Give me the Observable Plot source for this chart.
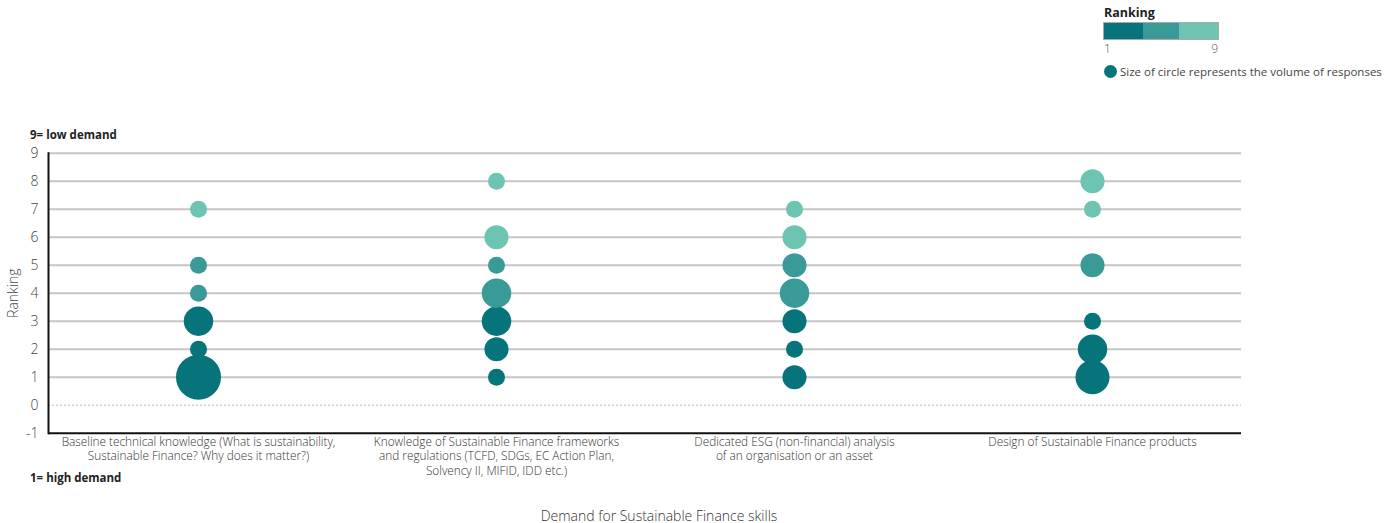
<!DOCTYPE html>
<html>
<head>
<meta charset="utf-8">
<script src="https://cdn.jsdelivr.net/npm/d3@7"></script>
<script src="https://cdn.jsdelivr.net/npm/@observablehq/plot@0.6"></script>
<style>
  html, body { margin: 0; padding: 0; background: #fff; }
  body { font-family: "Open Sans", sans-serif; }
  #wrap { position: relative; width: 1397px; height: 523px; }
  #chart { position: absolute; left: 0; top: 0; }
  .note { position: absolute; font-weight: 700; font-size: 11.5px; color: #222; white-space: nowrap; line-height: 1; }
  #xtitle { position: absolute; left: 659px; top: 507px; transform: translateX(-50%); font-size: 14px; font-weight: 300; color: #333; white-space: nowrap; line-height: 18px; }
  #legend { position: absolute; left: 1104px; top: 5px; font-size: 11.5px; color: #444; }
  #legend .title { font-weight: 700; font-size: 12.5px; color: #222; line-height: 16px; }
  #legend .bar { display: flex; width: 114px; height: 16px; border: 1px solid #aaa; margin-top: 1px; margin-left: -1px; }
  #legend .bar div { height: 100%; }
  #legend .ends { display: flex; justify-content: space-between; width: 114px; margin-top: 2px; line-height: 14px; font-size: 12px; color: #555; font-weight: 300; }
  #legend .size { display: flex; align-items: center; margin-top: 8px; white-space: nowrap; }
  #legend .size span.c { display: inline-block; width: 13px; height: 13px; border-radius: 50%; margin-right: 3px; }
</style>
</head>
<body>
<div id="wrap">
  <div id="chart"></div>
  <div class="note" style="left:30px; top:129px;">9= low demand</div>
  <div class="note" style="left:30px; top:472px;">1= high demand</div>
  <div id="xtitle"></div>
  <div id="legend"></div>
</div>
<script>
// ---- Data ----
const skills = [
  "Baseline technical knowledge",
  "Knowledge of Sustainable Finance frameworks",
  "Dedicated ESG analysis",
  "Design of Sustainable Finance products"
];
const skillTickLabels = [
  "Baseline technical knowledge (What is sustainability,\nSustainable Finance? Why does it matter?)",
  "Knowledge of Sustainable Finance frameworks\nand regulations (TCFD, SDGs, EC Action Plan,\nSolvency II, MIFID, IDD etc.)",
  "Dedicated ESG (non-financial) analysis\nof an organisation or an asset",
  "Design of Sustainable Finance products"
];
const xTitle = "Demand for Sustainable Finance skills";
const yTitle = "Ranking";
const baselineRanks = [1, 2, 3, 4, 5, 7];
const baselineVolumes = [7, 1, 3, 1, 1, 1];
const frameworksRanks = [1, 2, 3, 4, 5, 6, 8];
const frameworksVolumes = [1, 2, 3, 3, 1, 2, 1];
const esgRanks = [1, 2, 3, 4, 5, 6, 7];
const esgVolumes = [2, 1, 2, 3, 2, 2, 1];
const designRanks = [1, 2, 3, 5, 7, 8];
const designVolumes = [4, 3, 1, 2, 1, 2];

const yTicks = [-1, 0, 1, 2, 3, 4, 5, 6, 7, 8, 9];
const gridValues = [1, 2, 3, 4, 5, 6, 7, 8, 9];
const colorThresholds = [4, 6];
const colorRange = ["#07737b", "#3a9a97", "#6dc4b3"];
const legendEnds = ["1", "9"];

// ---- Build table ----
const groups = [
  [baselineRanks, baselineVolumes],
  [frameworksRanks, frameworksVolumes],
  [esgRanks, esgVolumes],
  [designRanks, designVolumes]
];
const data = [];
groups.forEach(([ranks, vols], i) => {
  ranks.forEach((r, j) => data.push({skill: skills[i], rank: r, volume: vols[j]}));
});

const chart = Plot.plot({
  width: 1397,
  height: 523,
  marginLeft: 48,
  marginRight: 156,
  marginTop: 152.7,
  marginBottom: 90.3,
  style: {fontFamily: "Open Sans, sans-serif", fontSize: "13px", fontWeight: 300, color: "#444", background: "transparent"},
  x: {type: "band", domain: skills, padding: 0},
  y: {domain: [-1, 9]},
  r: {domain: [0, 7], range: [0, 22.5]},
  color: {type: "threshold", domain: colorThresholds, range: colorRange},
  marks: [
    Plot.ruleY(gridValues, {stroke: "#c6c6c6", strokeWidth: 2}),
    Plot.ruleY([0], {stroke: "#b5b5b5", strokeWidth: 1, strokeDasharray: "2,2"}),
    Plot.dot(data, {x: "skill", y: "rank", r: "volume", fill: "rank", stroke: "none"}),
    Plot.axisY({
      ticks: yTicks, tickSize: 0, tickPadding: 10,
      tickFormat: d => String(d),
      fontSize: 14, fontWeight: 300, fill: "#444",
      label: yTitle, labelAnchor: "center", labelArrow: false, labelOffset: 40
    }),
    Plot.axisX({
      tickSize: 0, tickPadding: 3,
      tickFormat: d => skillTickLabels[skills.indexOf(d)],
      fontSize: 11.8, fontWeight: 300, fill: "#333", lineHeight: 1.2,
      label: null
    }),
    Plot.ruleY([-1], {stroke: "#111", strokeWidth: 2}),
    Plot.frame({anchor: "left", stroke: "#111", strokeWidth: 2})
  ]
});
document.getElementById("chart").appendChild(chart);
document.getElementById("xtitle").textContent = xTitle;

// ---- Legend (HTML) ----
const legend = document.getElementById("legend");
legend.innerHTML = `
  <div class="title">Ranking</div>
  <div class="bar">${colorRange.map((c, i) => `<div style="background:${c};width:${[39, 36, 39][i]}px"></div>`).join("")}</div>
  <div class="ends"><span>${legendEnds[0]}</span><span>${legendEnds[1]}</span></div>
  <div class="size"><span class="c" style="background:${colorRange[0]}"></span>Size of circle represents the volume of responses</div>
`;
</script>
</body>
</html>
